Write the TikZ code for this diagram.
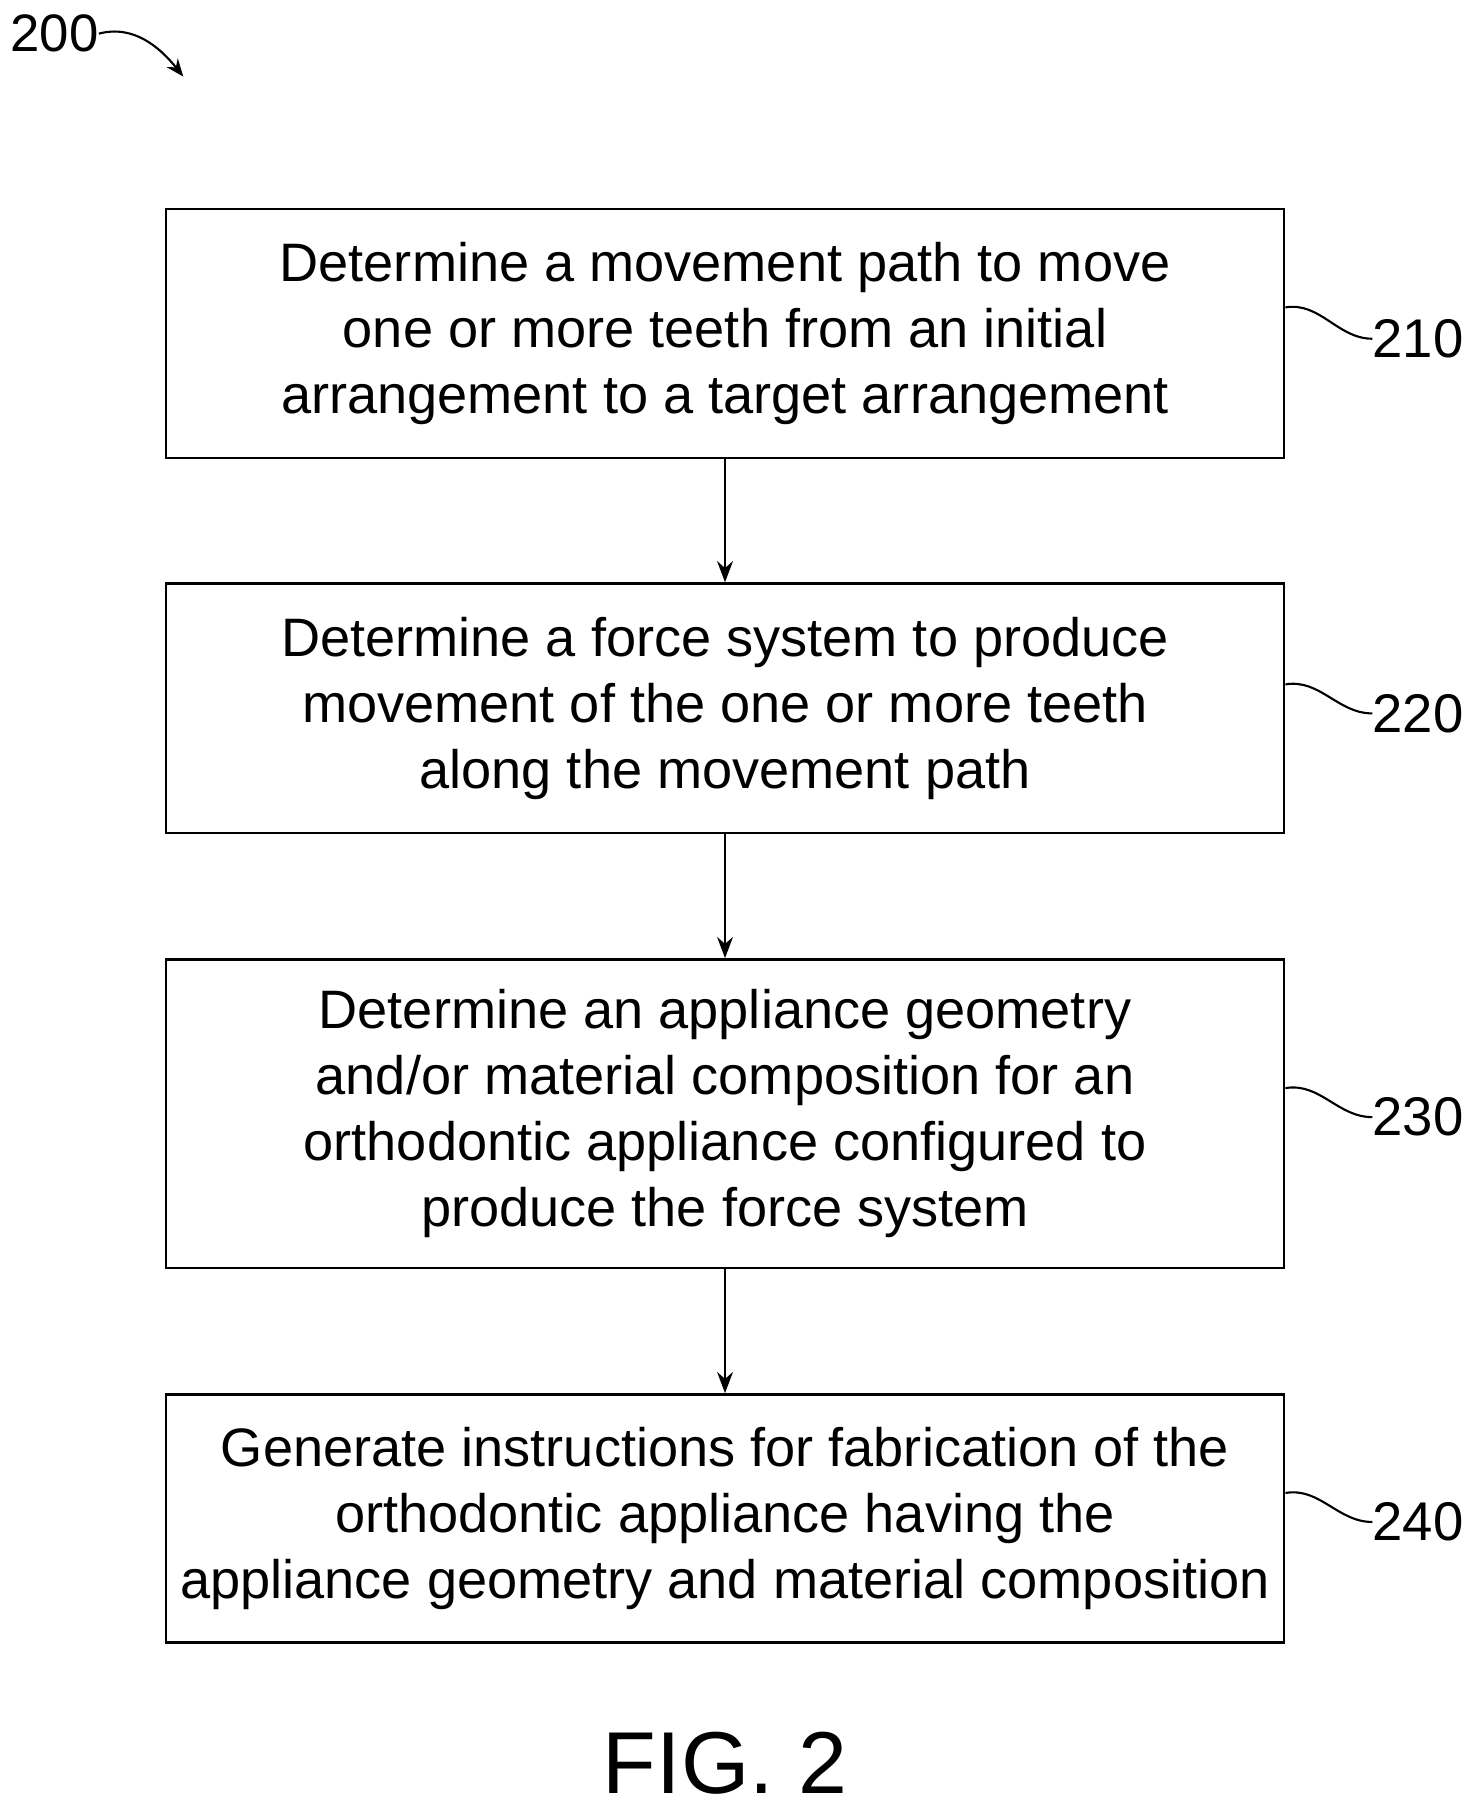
\documentclass[tikz,border=0pt]{standalone}
\usepackage{fontspec}
\setmainfont{Liberation Sans}
\usetikzlibrary{arrows.meta}
\begin{document}
\begin{tikzpicture}[x=0.0232cm,y=-0.0232cm,
  box/.style={draw, line width=1.4pt, minimum width=964*0.0232cm, align=center, font=\fontsize{30.8}{37.5}\selectfont, inner sep=0pt},
  lab/.style={font=\fontsize{31}{36}\selectfont, anchor=west, inner sep=0pt},
  arr/.style={line width=1.4pt, -{Stealth[length=12pt,width=9pt]}},
  sq/.style={line width=1.2pt}]
\useasboundingbox (0,0) rectangle (1272.4,1567.2);
\node[box, minimum height=215*0.0232cm] (b1) at (625,287.5) {Determine a movement path to move\\one or more teeth from an initial\\arrangement to a target arrangement};
\node[box, minimum height=215*0.0232cm] (b2) at (625,610.5) {Determine a force system to produce\\movement of the one or more teeth\\along the movement path};
\node[box, minimum height=266*0.0232cm] (b3) at (625,960) {Determine an appliance geometry\\and/or material composition for an\\orthodontic appliance configured to\\produce the force system};
\node[box, minimum height=214*0.0232cm] (b4) at (625,1309) {Generate instructions for fabrication of the\\orthodontic appliance having the\\appliance geometry and material composition};
\draw[arr] (b1) -- (b2);
\draw[arr] (b2) -- (b3);
\draw[arr] (b3) -- (b4);
\node[lab] (l1) at (1183,292) {210};
\node[lab] (l2) at (1183,615) {220};
\node[lab] (l3) at (1183,963) {230};
\node[lab] (l4) at (1183,1312) {240};
\foreach \b/\l/\y in {b1/l1/265, b2/l2/590, b3/l3/938, b4/l4/1287}
  \draw[sq] (b1.east |- 0,\y) .. controls +(30,-5) and +(-30,0) .. (\l.west);
\node[font=\fontsize{30}{36}\selectfont, inner sep=0pt] (n200) at (47,29) {200};
\draw[sq, -{Stealth[length=10pt,width=8pt]}] (n200.east) .. controls +(30,-8) and +(-20,-25) .. (158,66);
\node[font=\fontsize{50}{56}\selectfont, inner sep=0pt] (fig) at (625,1520) {FIG. 2};
\end{tikzpicture}
\end{document}
